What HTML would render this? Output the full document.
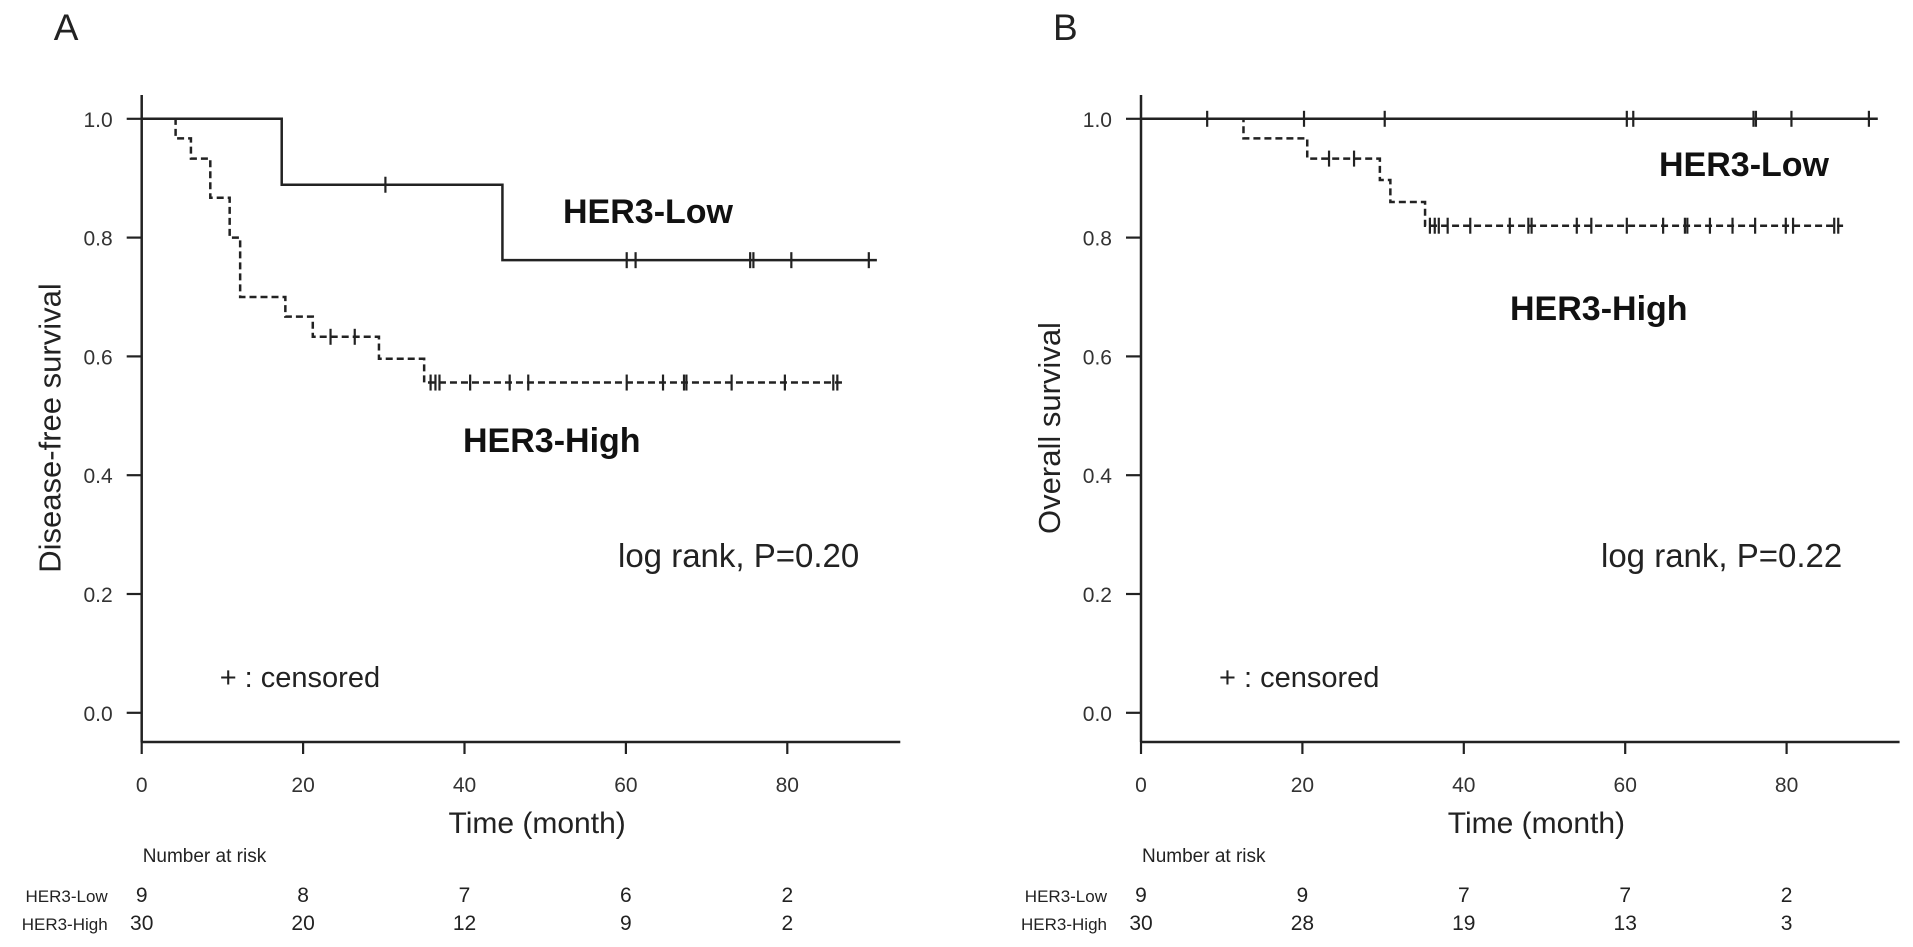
<!DOCTYPE html>
<html><head><meta charset="utf-8"><style>
html,body{margin:0;padding:0;background:#fff;}
svg{display:block;font-family:"Liberation Sans",Arial,sans-serif;}
</style></head><body>
<svg id="fig" width="1913" height="947" viewBox="0 0 1913 947" xmlns="http://www.w3.org/2000/svg"></svg>
<script>
// ---- data ----
const xTicks = [0, 20, 40, 60, 80];
const yTicks = [0.0, 0.2, 0.4, 0.6, 0.8, 1.0];
const yTickLabels = ["0.0", "0.2", "0.4", "0.6", "0.8", "1.0"];
const riskTimes = [0, 20, 40, 60, 80];

// Panel A (disease-free survival)
const aLowTimes = [0, 17.35, 44.7, 91.1];
const aLowSurv = [1.0, 0.889, 0.762, 0.762];
const aLowCensor = [30.2, 60.1, 61.2, 75.4, 75.8, 80.5, 90.1];
const aHighTimes = [0, 4.2, 6.1, 8.5, 10.9, 12.2, 17.8, 21.2, 29.4, 35.0, 87.0];
const aHighSurv = [1.0, 0.967, 0.933, 0.867, 0.8, 0.7, 0.667, 0.633, 0.596, 0.556, 0.556];
const aHighCensor = [23.4, 26.4, 35.8, 36.4, 36.9, 40.7, 45.6, 47.9, 60.1, 64.6, 67.2, 67.5, 73.1, 79.7, 85.7, 86.2];
const aRiskLow = [9, 8, 7, 6, 2];
const aRiskHigh = [30, 20, 12, 9, 2];

// Panel B (overall survival)
const bLowTimes = [0, 91.3];
const bLowSurv = [1.0, 1.0];
const bLowCensor = [8.2, 20.2, 30.2, 60.2, 61.0, 75.9, 76.2, 80.6, 90.2];
const bHighTimes = [0, 12.7, 20.6, 29.6, 30.9, 35.2, 87.0];
const bHighSurv = [1.0, 0.967, 0.933, 0.897, 0.86, 0.82, 0.82];
const bHighCensor = [23.3, 26.4, 35.8, 36.4, 36.9, 38.0, 40.8, 45.7, 48.0, 48.4, 54.0, 55.8, 60.2, 64.7, 67.4, 67.7, 70.5, 73.3, 76.1, 79.9, 80.8, 85.9, 86.4];
const bRiskLow = [9, 9, 7, 7, 2];
const bRiskHigh = [30, 28, 19, 13, 3];

// ---- layout ----
const NS = "http://www.w3.org/2000/svg";
const svg = document.getElementById("fig");
const PXM = 8.07, Y1 = 118.8, Y0 = 712.8, AXY = 742, AXTOP = 95, XMAXM = 94;
const INK = "#222";

function mk(tag, attrs, parent) {
  const e = document.createElementNS(NS, tag);
  for (const k in attrs) e.setAttribute(k, attrs[k]);
  (parent || svg).appendChild(e);
  return e;
}
function txt(s, attrs, parent) { const t = mk("text", attrs, parent); t.textContent = s; return t; }

function panel(cfg) {
  const ox = cfg.ox;
  const sx = m => ox + m * PXM;
  const sy = v => Y0 - v * (Y0 - Y1);
  const g = mk("g", {});
  
  

  const pl = txt(cfg.letter, {x: ox - 88, y: 40, "font-size": 37, fill: INK}, g);
  
  

  // axes
  const ya = mk("line", {x1: ox, y1: AXTOP, x2: ox, y2: AXY, stroke: INK, "stroke-width": 2.5}, g);
  
  
  const xa = mk("line", {x1: ox - 1, y1: AXY, x2: sx(XMAXM), y2: AXY, stroke: INK, "stroke-width": 2.5}, g);
  
  

  yTicks.forEach((v, i) => {
    const t = mk("line", {x1: ox - 15, y1: sy(v), x2: ox, y2: sy(v), stroke: INK, "stroke-width": 2.2}, g);
    
    
    const l = txt(yTickLabels[i], {x: ox - 29, y: sy(v) + 8, "font-size": 21, "text-anchor": "end", fill: "#333"}, g);
    
    
  });
  xTicks.forEach(m => {
    const t = mk("line", {x1: sx(m), y1: AXY, x2: sx(m), y2: AXY + 12, stroke: INK, "stroke-width": 2.2}, g);
    
    
    const l = txt(String(m), {x: sx(m), y: 792, "font-size": 21, "text-anchor": "middle", fill: "#333"}, g);
    
    
  });

  const xt = txt("Time (month)", {x: sx(49), y: 833, "font-size": 30, "text-anchor": "middle", fill: INK}, g);
  
  
  const yt = txt(cfg.ytitle, {x: 0, y: 0, "font-size": 31, "text-anchor": "middle", fill: INK,
    transform: `translate(${ox - 81},428) rotate(-90)`}, g);
  
  

  // curves
  function curve(times, surv, censor, dashed, name) {
    let d = `M${sx(times[0])},${sy(surv[0])}`;
    for (let i = 1; i < times.length; i++) {
      d += ` H${sx(times[i])} V${sy(surv[i])}`;
    }
    const p = mk("path", {d: d, fill: "none", stroke: INK, "stroke-width": 2.5,
      "stroke-dasharray": dashed ? "7,4" : "none"}, g);
    
    
    censor.forEach(c => {
      let s = surv[0];
      for (let i = 0; i < times.length; i++) if (times[i] <= c) s = surv[i];
      const cm = mk("line", {x1: sx(c), y1: sy(s) - 8, x2: sx(c), y2: sy(s) + 8, stroke: INK, "stroke-width": 2.2}, g);
      
      
    });
  }
  curve(cfg.lowT, cfg.lowS, cfg.lowC, false, "her3-low");
  curve(cfg.highT, cfg.highS, cfg.highC, true, "her3-high");

  const ll = txt("HER3-Low", {x: cfg.lowLbl[0], y: cfg.lowLbl[1], "font-size": 34, "font-weight": "bold", fill: "#111"}, g);
  
  
  const hl = txt("HER3-High", {x: cfg.highLbl[0], y: cfg.highLbl[1], "font-size": 34, "font-weight": "bold", fill: "#111"}, g);
  
  

  const lr = txt(cfg.logrank, {x: cfg.lrX, y: 567, "font-size": 33, fill: INK}, g);
  
  
  const cn = txt("+ : censored", {x: ox + 78, y: 687, "font-size": 29, fill: INK}, g);
  
  

  // risk table
  const nr = txt("Number at risk", {x: ox + 1, y: 862, "font-size": 19, fill: INK}, g);
  
  
  const rl = txt("HER3-Low", {x: ox - 34, y: 902, "font-size": 17, "text-anchor": "end", fill: INK}, g);
  
  
  const rh = txt("HER3-High", {x: ox - 34, y: 930, "font-size": 17, "text-anchor": "end", fill: INK}, g);
  
  
  riskTimes.forEach((m, i) => {
    const a = txt(String(cfg.riskLow[i]), {x: sx(m), y: 902, "font-size": 21, "text-anchor": "middle", fill: INK}, g);
    
    
    const b = txt(String(cfg.riskHigh[i]), {x: sx(m), y: 930, "font-size": 21, "text-anchor": "middle", fill: INK}, g);
    
    
  });
}

panel({name: "panel-a-disease-free", letter: "A", ox: 141.7, ytitle: "Disease-free survival",
  lowT: aLowTimes, lowS: aLowSurv, lowC: aLowCensor,
  highT: aHighTimes, highS: aHighSurv, highC: aHighCensor,
  lowLbl: [563, 223], highLbl: [463, 452], logrank: "log rank, P=0.20", lrX: 618,
  riskLow: aRiskLow, riskHigh: aRiskHigh});
panel({name: "panel-b-overall", letter: "B", ox: 1141, ytitle: "Overall survival",
  lowT: bLowTimes, lowS: bLowSurv, lowC: bLowCensor,
  highT: bHighTimes, highS: bHighSurv, highC: bHighCensor,
  lowLbl: [1659, 176], highLbl: [1510, 320], logrank: "log rank, P=0.22", lrX: 1601,
  riskLow: bRiskLow, riskHigh: bRiskHigh});
</script>
</body></html>
